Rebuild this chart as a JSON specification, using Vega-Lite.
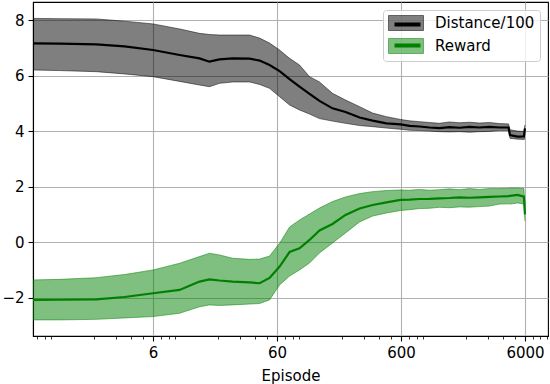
{
  "$schema": "https://vega.github.io/schema/vega-lite/v6.json",
  "width": 515,
  "height": 334,
  "autosize": {"type": "none"},
  "padding": {"left": 33, "top": 2, "right": 2, "bottom": 48},
  "background": "white",
  "config": {
    "font": "DejaVu Sans",
    "view": {"stroke": "black", "strokeWidth": 1.1},
    "axis": {
      "labelFont": "DejaVu Sans", "labelFontSize": 15, "labelColor": "black",
      "tickColor": "black", "domainColor": "black", "domainWidth": 1.1, "tickWidth": 1.1,
      "gridColor": "#b0b0b0", "gridWidth": 1.1,
      "titleFont": "DejaVu Sans", "titleFontSize": 15, "titleFontWeight": "normal", "titleColor": "black"
    }
  },
  "data": {"values": [
    {"series": "Distance/100", "episode": 0.645, "lo": 6.20, "mean": 7.16, "hi": 8.06},
    {"series": "Distance/100", "episode": 1.06, "lo": 6.18, "mean": 7.15, "hi": 8.05},
    {"series": "Distance/100", "episode": 2.09, "lo": 6.14, "mean": 7.125, "hi": 8.04},
    {"series": "Distance/100", "episode": 3.53, "lo": 6.06, "mean": 7.05, "hi": 7.96},
    {"series": "Distance/100", "episode": 6, "lo": 5.96, "mean": 6.92, "hi": 7.86},
    {"series": "Distance/100", "episode": 9.82, "lo": 5.79, "mean": 6.74, "hi": 7.68},
    {"series": "Distance/100", "episode": 14.2, "lo": 5.66, "mean": 6.62, "hi": 7.52},
    {"series": "Distance/100", "episode": 17.1, "lo": 5.60, "mean": 6.50, "hi": 7.48},
    {"series": "Distance/100", "episode": 20.6, "lo": 5.72, "mean": 6.585, "hi": 7.46},
    {"series": "Distance/100", "episode": 26.3, "lo": 5.77, "mean": 6.62, "hi": 7.46},
    {"series": "Distance/100", "episode": 36.0, "lo": 5.77, "mean": 6.61, "hi": 7.46},
    {"series": "Distance/100", "episode": 43.4, "lo": 5.68, "mean": 6.54, "hi": 7.35},
    {"series": "Distance/100", "episode": 52.2, "lo": 5.54, "mean": 6.38, "hi": 7.17},
    {"series": "Distance/100", "episode": 62.9, "lo": 5.24, "mean": 6.16, "hi": 6.92},
    {"series": "Distance/100", "episode": 75.7, "lo": 4.94, "mean": 5.875, "hi": 6.62},
    {"series": "Distance/100", "episode": 91.1, "lo": 4.76, "mean": 5.60, "hi": 6.38},
    {"series": "Distance/100", "episode": 109.7, "lo": 4.615, "mean": 5.34, "hi": 5.96},
    {"series": "Distance/100", "episode": 132, "lo": 4.45, "mean": 5.09, "hi": 5.77},
    {"series": "Distance/100", "episode": 168, "lo": 4.36, "mean": 4.82, "hi": 5.36},
    {"series": "Distance/100", "episode": 214, "lo": 4.28, "mean": 4.69, "hi": 5.12},
    {"series": "Distance/100", "episode": 278, "lo": 4.20, "mean": 4.49, "hi": 4.88},
    {"series": "Distance/100", "episode": 354, "lo": 4.16, "mean": 4.38, "hi": 4.65},
    {"series": "Distance/100", "episode": 458, "lo": 4.11, "mean": 4.28, "hi": 4.52},
    {"series": "Distance/100", "episode": 595, "lo": 4.065, "mean": 4.24, "hi": 4.42},
    {"series": "Distance/100", "episode": 703, "lo": 4.03, "mean": 4.19, "hi": 4.37},
    {"series": "Distance/100", "episode": 846, "lo": 4.02, "mean": 4.165, "hi": 4.34},
    {"series": "Distance/100", "episode": 1018, "lo": 4.00, "mean": 4.13, "hi": 4.31},
    {"series": "Distance/100", "episode": 1226, "lo": 3.98, "mean": 4.11, "hi": 4.28},
    {"series": "Distance/100", "episode": 1476, "lo": 3.97, "mean": 4.14, "hi": 4.33},
    {"series": "Distance/100", "episode": 1778, "lo": 3.98, "mean": 4.12, "hi": 4.30},
    {"series": "Distance/100", "episode": 2141, "lo": 3.96, "mean": 4.15, "hi": 4.32},
    {"series": "Distance/100", "episode": 2578, "lo": 3.98, "mean": 4.13, "hi": 4.29},
    {"series": "Distance/100", "episode": 3103, "lo": 3.99, "mean": 4.15, "hi": 4.31},
    {"series": "Distance/100", "episode": 3734, "lo": 4.02, "mean": 4.13, "hi": 4.27},
    {"series": "Distance/100", "episode": 4420, "lo": 4.02, "mean": 4.13, "hi": 4.26},
    {"series": "Distance/100", "episode": 4540, "lo": 3.74, "mean": 3.86, "hi": 4.05},
    {"series": "Distance/100", "episode": 5225, "lo": 3.71, "mean": 3.80, "hi": 4.00},
    {"series": "Distance/100", "episode": 5880, "lo": 3.70, "mean": 3.81, "hi": 3.99},
    {"series": "Distance/100", "episode": 6000, "lo": 3.72, "mean": 4.10, "hi": 4.22},
    {"series": "Reward", "episode": 0.645, "lo": -2.80, "mean": -2.08, "hi": -1.36},
    {"series": "Reward", "episode": 1.06, "lo": -2.80, "mean": -2.075, "hi": -1.34},
    {"series": "Reward", "episode": 2.09, "lo": -2.78, "mean": -2.06, "hi": -1.28},
    {"series": "Reward", "episode": 3.53, "lo": -2.73, "mean": -1.975, "hi": -1.165},
    {"series": "Reward", "episode": 6, "lo": -2.68, "mean": -1.84, "hi": -1.00},
    {"series": "Reward", "episode": 9.82, "lo": -2.56, "mean": -1.72, "hi": -0.76},
    {"series": "Reward", "episode": 14.2, "lo": -2.33, "mean": -1.42, "hi": -0.52},
    {"series": "Reward", "episode": 17.1, "lo": -2.26, "mean": -1.34, "hi": -0.40},
    {"series": "Reward", "episode": 20.6, "lo": -2.28, "mean": -1.38, "hi": -0.46},
    {"series": "Reward", "episode": 26.3, "lo": -2.26, "mean": -1.42, "hi": -0.58},
    {"series": "Reward", "episode": 36.0, "lo": -2.23, "mean": -1.45, "hi": -0.62},
    {"series": "Reward", "episode": 43.4, "lo": -2.21, "mean": -1.48, "hi": -0.61},
    {"series": "Reward", "episode": 52.2, "lo": -2.08, "mean": -1.29, "hi": -0.50},
    {"series": "Reward", "episode": 62.9, "lo": -1.54, "mean": -0.88, "hi": -0.04},
    {"series": "Reward", "episode": 75.7, "lo": -1.22, "mean": -0.355, "hi": 0.545},
    {"series": "Reward", "episode": 91.1, "lo": -1.00, "mean": -0.22, "hi": 0.80},
    {"series": "Reward", "episode": 109.7, "lo": -0.75, "mean": 0.08, "hi": 1.015},
    {"series": "Reward", "episode": 132, "lo": -0.39, "mean": 0.42, "hi": 1.23},
    {"series": "Reward", "episode": 168, "lo": -0.03, "mean": 0.655, "hi": 1.46},
    {"series": "Reward", "episode": 214, "lo": 0.33, "mean": 0.98, "hi": 1.63},
    {"series": "Reward", "episode": 278, "lo": 0.73, "mean": 1.21, "hi": 1.75},
    {"series": "Reward", "episode": 354, "lo": 0.94, "mean": 1.34, "hi": 1.82},
    {"series": "Reward", "episode": 458, "lo": 1.05, "mean": 1.43, "hi": 1.86},
    {"series": "Reward", "episode": 595, "lo": 1.14, "mean": 1.52, "hi": 1.88},
    {"series": "Reward", "episode": 703, "lo": 1.17, "mean": 1.53, "hi": 1.87},
    {"series": "Reward", "episode": 846, "lo": 1.21, "mean": 1.555, "hi": 1.90},
    {"series": "Reward", "episode": 1018, "lo": 1.22, "mean": 1.56, "hi": 1.87},
    {"series": "Reward", "episode": 1226, "lo": 1.255, "mean": 1.58, "hi": 1.89},
    {"series": "Reward", "episode": 1476, "lo": 1.24, "mean": 1.59, "hi": 1.92},
    {"series": "Reward", "episode": 1778, "lo": 1.27, "mean": 1.61, "hi": 1.89},
    {"series": "Reward", "episode": 2141, "lo": 1.26, "mean": 1.60, "hi": 1.93},
    {"series": "Reward", "episode": 2578, "lo": 1.28, "mean": 1.615, "hi": 1.90},
    {"series": "Reward", "episode": 3103, "lo": 1.30, "mean": 1.63, "hi": 1.93},
    {"series": "Reward", "episode": 3734, "lo": 1.37, "mean": 1.645, "hi": 1.93},
    {"series": "Reward", "episode": 4420, "lo": 1.38, "mean": 1.66, "hi": 1.94},
    {"series": "Reward", "episode": 4540, "lo": 1.37, "mean": 1.67, "hi": 1.95},
    {"series": "Reward", "episode": 5225, "lo": 1.41, "mean": 1.70, "hi": 1.95},
    {"series": "Reward", "episode": 5880, "lo": 1.37, "mean": 1.64, "hi": 1.93},
    {"series": "Reward", "episode": 6000, "lo": 0.76, "mean": 1.00, "hi": 1.30}
  ]},
  "encoding": {
    "x": {
      "field": "episode", "type": "quantitative", "title": "Episode",
      "scale": {"type": "log", "domain": [0.645, 9200], "nice": false},
      "axis": {
        "values": [0.7, 0.8, 0.9, 2, 3, 4, 5, 6, 7, 8, 9, 20, 30, 40, 50, 60, 70, 80, 90, 200, 300, 400, 500, 600, 700, 800, 900, 2000, 3000, 4000, 5000, 6000, 7000, 8000, 9000],
        "labelExpr": "indexof([6,60,600,6000], datum.value) >= 0 ? ('' + datum.value) : ''",
        "labelOverlap": false, "labelFlush": false, "labelBound": false,
        "labelPadding": 4, "titlePadding": 8,
        "tickSize": {"condition": {"test": "indexof([6,60,600,6000], datum.value) >= 0", "value": 5}, "value": 3},
        "tickWidth": {"condition": {"test": "indexof([6,60,600,6000], datum.value) >= 0", "value": 1.1}, "value": 0.8},
        "gridOpacity": {"condition": {"test": "indexof([6,60,600,6000], datum.value) >= 0", "value": 1}, "value": 0}
      }
    }
  },
  "layer": [
    {
      "mark": {"type": "area", "fillOpacity": 0.5},
      "encoding": {
        "y": {"field": "lo", "type": "quantitative", "title": null,
          "scale": {"domain": [-3.38, 8.65], "nice": false, "zero": false},
          "axis": {"values": [-2, 0, 2, 4, 6, 8], "tickSize": 5, "labelPadding": 4, "grid": true}},
        "y2": {"field": "hi"},
        "fill": {
          "field": "series", "type": "nominal",
          "scale": {"range": ["black", "green"]},
          "legend": {
            "orient": "none", "legendX": 350, "legendY": 8, "title": null,
            "symbolType": "M-2.333,-1H2.333V1H-2.333Z", "symbolSize": 225, "symbolOffset": 10,
            "labelFont": "DejaVu Sans", "labelFontSize": 15, "labelColor": "black", "labelOffset": 21,
            "padding": 5, "rowPadding": 3,
            "fillColor": "rgba(255,255,255,0.8)", "strokeColor": "#cccccc", "cornerRadius": 3,
            "encode": {"symbols": {"update": {
              "opacity": {"value": 1},
              "fillOpacity": {"value": 0.5},
              "stroke": {"scale": "fill", "field": "value"},
              "strokeOpacity": {"value": 0.5},
              "strokeWidth": {"value": 1}
            }}}
          }
        }
      }
    },
    {
      "transform": [{"fold": ["lo", "hi"], "as": ["bound", "val"]}],
      "mark": {"type": "line", "strokeWidth": 1, "strokeOpacity": 0.5},
      "encoding": {
        "y": {"field": "val", "type": "quantitative"},
        "detail": {"field": "bound"},
        "stroke": {"field": "series", "type": "nominal",
          "scale": {"domain": ["Distance/100", "Reward"], "range": ["black", "green"]},
          "legend": {
            "orient": "none", "legendX": 350, "legendY": 8, "title": null,
            "symbolType": "M-1.733,0H1.733", "symbolSize": 225, "symbolOffset": 10, "symbolStrokeWidth": 4,
            "labelExpr": "''", "labelFontSize": 15, "labelOffset": 21,
            "padding": 5, "rowPadding": 3,
            "encode": {"symbols": {"update": {
              "opacity": {"value": 1},
              "fill": {"value": "transparent"},
              "strokeOpacity": {"value": 1},
              "strokeWidth": {"value": 4}
            }}}
          }
        }
      }
    },
    {
      "mark": {"type": "line", "strokeWidth": 2.2},
      "encoding": {
        "y": {"field": "mean", "type": "quantitative"},
        "stroke": {"field": "series", "type": "nominal",
          "scale": {"domain": ["Distance/100", "Reward"], "range": ["black", "green"]}}
      }
    }
  ]
}
